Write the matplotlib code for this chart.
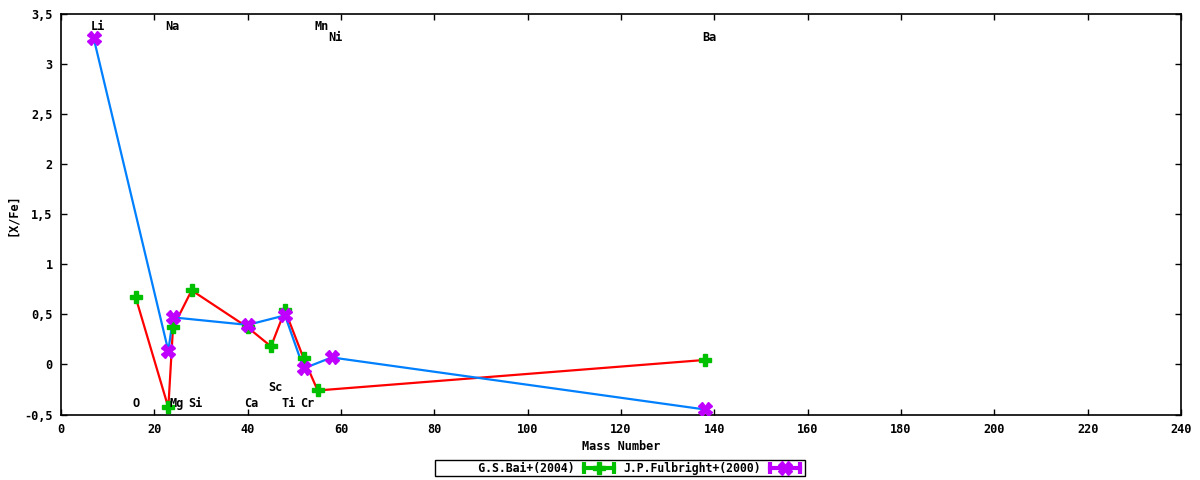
import matplotlib
matplotlib.use("Agg")
import matplotlib.pyplot as plt
from matplotlib.lines import Line2D
from matplotlib.legend_handler import HandlerLine2D, HandlerTuple
from matplotlib.ticker import FuncFormatter

plt.rcParams['font.family'] = ['DejaVu Sans Mono']
plt.rcParams['font.weight'] = 'bold'
plt.rcParams['font.size'] = 8.3

# G.S.Bai+(2004)
bai_mass = [16, 23, 24, 28, 40, 45, 48, 52, 55, 138]
bai_val = [0.67, -0.43, 0.37, 0.74, 0.37, 0.18, 0.54, 0.06, -0.26, 0.045]

# J.P.Fulbright+(2000)
ful_mass = [7, 23, 24, 40, 48, 52, 58, 138]
ful_val = [3.26, 0.135, 0.47, 0.395, 0.49, -0.04, 0.07, -0.45]

# element labels (name, x, y)
lab_names = ["Li", "Na", "Mn", "Ni", "Ba", "O", "Mg", "Si", "Ca", "Sc", "Ti", "Cr"]
lab_x = [7, 23, 55, 58, 138, 16, 24, 28, 40, 45, 48, 52]
lab_y = [3.38, 3.38, 3.38, 3.27, 3.27, -0.39, -0.39, -0.39, -0.39, -0.23, -0.39, -0.39]

fs = 8.6

fig = plt.figure(figsize=(12, 4.8), dpi=100)
ax = fig.add_axes([61/1200, 1 - 414.5/480, 1120/1200, 400.5/480])

ax.plot(bai_mass, bai_val, color='#ff0000', lw=1.6, zorder=2)
ax.plot(ful_mass, ful_val, color='#0080ff', lw=1.6, zorder=2)
ax.plot(bai_mass, bai_val, ls='none', marker='P', ms=9, color='#00c000', mec='#00c000', zorder=3)
ax.plot(ful_mass, ful_val, ls='none', marker='X', ms=10, color='#c000ff', mec='#c000ff', zorder=4)

for name, x, y in zip(lab_names, lab_x, lab_y):
    ax.annotate(name, (x, y), xytext=(-2.2, 0), textcoords='offset points',
                ha='left', va='center', fontsize=fs, fontweight='bold')

ax.set_xlim(0, 240)
ax.set_ylim(-0.5, 3.5)
ax.set_xticks(range(0, 241, 20))
ax.set_yticks([-0.5, 0, 0.5, 1, 1.5, 2, 2.5, 3, 3.5])
ax.yaxis.set_major_formatter(FuncFormatter(lambda v, p: ('%g' % v).replace('.', ',')))
ax.tick_params(direction='in', length=4, width=1, top=True, right=True, labelsize=fs, pad=6)
for s in ax.spines.values():
    s.set_linewidth(1.2)
ax.set_xlabel("Mass Number", fontsize=fs, fontweight='bold', va='center')
ax.xaxis.set_label_coords(0.5, -(447 - 414.5) / 400.5)
ax.set_ylabel("[X/Fe]", fontsize=fs, fontweight='bold', va='center')
ax.yaxis.set_label_coords(-(61 - 13) / 1120, 0.5)

# legend samples: line with end caps and a point in the middle
g_bar = Line2D([], [], color='#00c000', lw=3, marker='|', ms=9, mew=3)
g_pt = Line2D([], [], ls='none', color='#00c000', marker='P', ms=9)
p_bar = Line2D([], [], color='#c000ff', lw=3, marker='|', ms=9, mew=3)
p_pt = Line2D([], [], ls='none', color='#c000ff', marker='X', ms=10)
hm = {g_bar: HandlerLine2D(numpoints=2), p_bar: HandlerLine2D(numpoints=2),
      g_pt: HandlerLine2D(numpoints=1), p_pt: HandlerLine2D(numpoints=1),
      tuple: HandlerTuple(ndivide=1, pad=0)}
leg = fig.legend([(g_bar, g_pt), (p_bar, p_pt)],
                 ["      G.S.Bai+(2004)", "J.P.Fulbright+(2000)"],
                 handler_map=hm, loc='center', bbox_to_anchor=(620/1200, 1 - 468/480),
                 ncol=2, markerfirst=False, fancybox=False, framealpha=1, edgecolor='black',
                 fontsize=8.3, handlelength=3.2, handletextpad=0.5, columnspacing=0.5,
                 borderpad=0.15, borderaxespad=0)
leg.get_frame().set_linewidth(1)

fig.savefig("out.png", dpi=100)
